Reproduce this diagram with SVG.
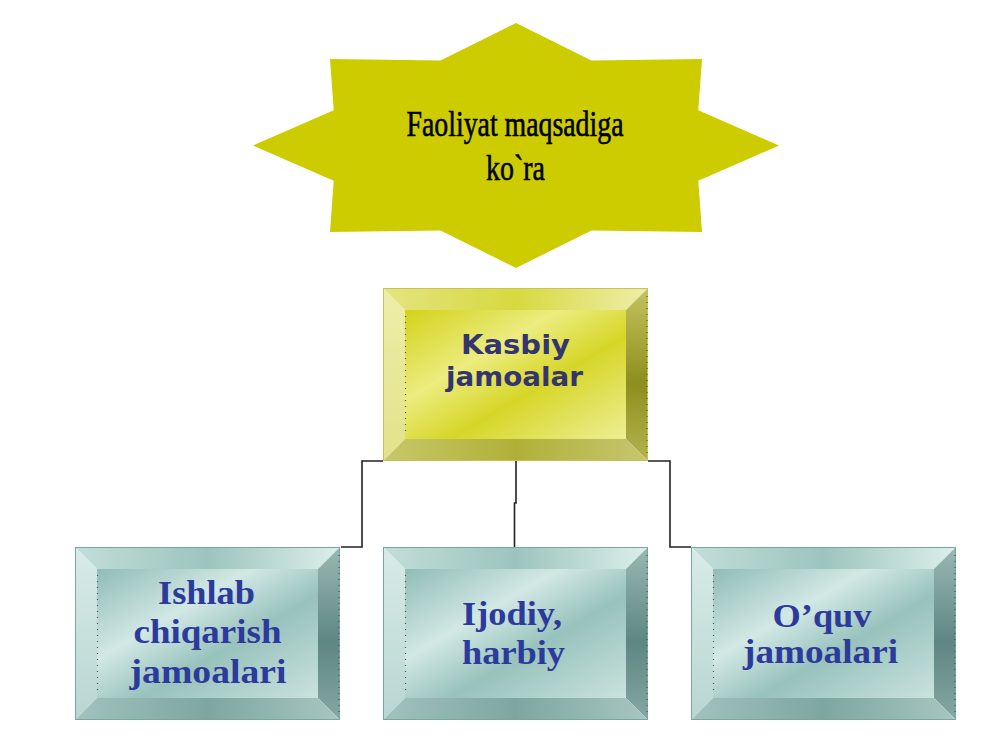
<svg xmlns="http://www.w3.org/2000/svg" xmlns:xlink="http://www.w3.org/1999/xlink" width="1000" height="750" viewBox="0 0 1000 750">
  <style>
    .star { fill: #cccc00; }
    .startext { font-family: "Liberation Serif", "Times New Roman", serif; font-size: 36px; fill: #000; stroke: #000; stroke-width: 0.6; text-anchor: middle; }
    .ytext { font-family: "DejaVu Sans", Verdana, sans-serif; font-weight: bold; font-size: 26px; fill: #34346e; text-anchor: middle; }
    .ttext { font-family: "Liberation Serif", "Times New Roman", serif; font-weight: bold; font-size: 34px; fill: #2c3a9c; text-anchor: middle; }
    .conn { fill: none; stroke: #222; stroke-width: 1.6; }
    .dots { stroke: #555; stroke-width: 1.2; stroke-dasharray: 1 5; }
  </style>
  <defs>
    <linearGradient id="yFace" x1="0" y1="0" x2="1" y2="1">
      <stop offset="0" stop-color="#d2d21a"/>
      <stop offset="0.35" stop-color="#ecec80"/>
      <stop offset="0.6" stop-color="#d6d628"/>
      <stop offset="1" stop-color="#eeee96"/>
    </linearGradient>
    <linearGradient id="yTop" x1="0" y1="0" x2="1" y2="0">
      <stop offset="0" stop-color="#e4e480"/>
      <stop offset="0.5" stop-color="#d8d840"/>
      <stop offset="1" stop-color="#eeeeaa"/>
    </linearGradient>
    <linearGradient id="yLeft" x1="0" y1="0" x2="0" y2="1">
      <stop offset="0" stop-color="#eeeeaa"/>
      <stop offset="1" stop-color="#e2e28a"/>
    </linearGradient>
    <linearGradient id="yRight" x1="0" y1="0" x2="0" y2="1">
      <stop offset="0" stop-color="#c4c460"/>
      <stop offset="0.55" stop-color="#8e8e1e"/>
      <stop offset="1" stop-color="#b4b450"/>
    </linearGradient>
    <linearGradient id="yBottom" x1="0" y1="0" x2="1" y2="0">
      <stop offset="0" stop-color="#c8c86a"/>
      <stop offset="0.5" stop-color="#b0b038"/>
      <stop offset="1" stop-color="#c6c670"/>
    </linearGradient>

    <linearGradient id="tFace" x1="0" y1="0" x2="1" y2="1">
      <stop offset="0" stop-color="#90bcb6"/>
      <stop offset="0.35" stop-color="#d2e8e5"/>
      <stop offset="0.6" stop-color="#98c2bc"/>
      <stop offset="1" stop-color="#cae2de"/>
    </linearGradient>
    <linearGradient id="tTop" x1="0" y1="0" x2="1" y2="0">
      <stop offset="0" stop-color="#c2deda"/>
      <stop offset="0.5" stop-color="#9cc4be"/>
      <stop offset="1" stop-color="#dcefec"/>
    </linearGradient>
    <linearGradient id="tLeft" x1="0" y1="0" x2="0" y2="1">
      <stop offset="0" stop-color="#d8ebe8"/>
      <stop offset="1" stop-color="#b8d6d2"/>
    </linearGradient>
    <linearGradient id="tRight" x1="0" y1="0" x2="0" y2="1">
      <stop offset="0" stop-color="#9ab8b4"/>
      <stop offset="0.55" stop-color="#5e8682"/>
      <stop offset="1" stop-color="#86a8a4"/>
    </linearGradient>
    <linearGradient id="tBottom" x1="0" y1="0" x2="1" y2="0">
      <stop offset="0" stop-color="#a2c2be"/>
      <stop offset="0.5" stop-color="#7ea6a0"/>
      <stop offset="1" stop-color="#a8c6c2"/>
    </linearGradient>

    <g id="yellowBox">
      <polygon points="0,0 265,0 243,22 22,22" fill="url(#yTop)"/>
      <polygon points="0,0 22,22 22,151 0,173" fill="url(#yLeft)"/>
      <polygon points="265,0 265,173 243,151 243,22" fill="url(#yRight)"/>
      <polygon points="0,173 22,151 243,151 265,173" fill="url(#yBottom)"/>
      <rect x="22" y="22" width="221" height="129" fill="url(#yFace)"/>
      <rect x="0.5" y="0.5" width="264" height="172" fill="none" stroke="#c4c45a" stroke-width="1"/>
      <line class="dots" x1="22.5" y1="28" x2="22.5" y2="148"/>
      <line class="dots" x1="264" y1="8" x2="264" y2="168"/>
    </g>
    <g id="tealBox">
      <polygon points="0,0 265,0 243,22 22,22" fill="url(#tTop)"/>
      <polygon points="0,0 22,22 22,151 0,173" fill="url(#tLeft)"/>
      <polygon points="265,0 265,173 243,151 243,22" fill="url(#tRight)"/>
      <polygon points="0,173 22,151 243,151 265,173" fill="url(#tBottom)"/>
      <rect x="22" y="22" width="221" height="129" fill="url(#tFace)"/>
      <rect x="0.5" y="0.5" width="264" height="172" fill="none" stroke="#7aa6a2" stroke-width="1"/>
      <line class="dots" x1="22.5" y1="28" x2="22.5" y2="148"/>
      <line class="dots" x1="264" y1="8" x2="264" y2="168"/>
    </g>
  </defs>

  <rect x="0" y="0" width="1000" height="750" fill="#ffffff"/>

  <g id="connectors">
    <path class="conn" d="M383,461 H362 V547 H341"/>
    <path class="conn" d="M516,461 V503 H514.5 V547"/>
    <path class="conn" d="M648,461 H670 V547 H691"/>
  </g>

  <g id="node-star">
    <polygon class="star" points="516,23 591.5,60.5 702,58.9 698.3,110.3 779,145.5 698.3,180.7 702,232.1 591.5,230.4 516,268 440.5,230.4 330,232.1 333.7,180.7 253,145.5 333.7,110.3 330,58.9 440.5,60.5"/>
    <text class="startext" x="515" y="136" textLength="217" lengthAdjust="spacingAndGlyphs">Faoliyat maqsadiga</text>
    <text class="startext" x="515.5" y="180" textLength="59" lengthAdjust="spacingAndGlyphs">ko`ra</text>
  </g>

  <g id="node-kasbiy">
    <use xlink:href="#yellowBox" x="383" y="288"/>
    <text class="ytext" x="515.5" y="354" textLength="109" lengthAdjust="spacingAndGlyphs">Kasbiy</text>
    <text class="ytext" x="514.5" y="386" textLength="137" lengthAdjust="spacingAndGlyphs">jamoalar</text>
  </g>

  <g id="node-ishlab">
    <use xlink:href="#tealBox" x="75" y="547"/>
    <text class="ttext" x="206.5" y="604" textLength="97" lengthAdjust="spacingAndGlyphs">Ishlab</text>
    <text class="ttext" x="207.5" y="643" textLength="148" lengthAdjust="spacingAndGlyphs">chiqarish</text>
    <text class="ttext" x="208" y="683" textLength="157" lengthAdjust="spacingAndGlyphs">jamoalari</text>
  </g>

  <g id="node-ijodiy">
    <use xlink:href="#tealBox" x="383" y="547"/>
    <text class="ttext" x="512" y="625" textLength="100" lengthAdjust="spacingAndGlyphs">Ijodiy,</text>
    <text class="ttext" x="513.5" y="664" textLength="103" lengthAdjust="spacingAndGlyphs">harbiy</text>
  </g>

  <g id="node-oquv">
    <use xlink:href="#tealBox" x="691" y="547"/>
    <text class="ttext" x="822" y="627" textLength="99" lengthAdjust="spacingAndGlyphs">O’quv</text>
    <text class="ttext" x="820.5" y="663" textLength="155" lengthAdjust="spacingAndGlyphs">jamoalari</text>
  </g>
</svg>
